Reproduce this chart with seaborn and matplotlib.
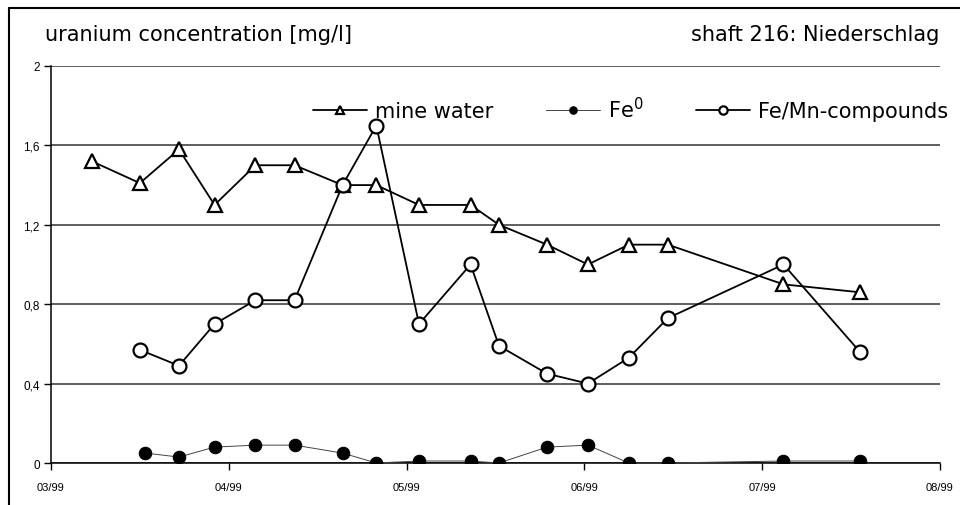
import matplotlib
matplotlib.use("Agg")
import matplotlib.pyplot as plt
import matplotlib.ticker as mticker
import pandas as pd
import seaborn as sns

# data (x in months after 03/99)
month_labels = ["03/99", "04/99", "05/99", "06/99", "07/99", "08/99"]

mine_x = [0.23, 0.50, 0.72, 0.92, 1.15, 1.37, 1.64, 1.83, 2.07, 2.36, 2.52,
          2.79, 3.02, 3.25, 3.47, 4.12, 4.55]
mine_y = [1.52, 1.41, 1.58, 1.30, 1.50, 1.50, 1.40, 1.40, 1.30, 1.30, 1.20,
          1.10, 1.00, 1.10, 1.10, 0.90, 0.86]

fe0_x = [0.53, 0.72, 0.92, 1.15, 1.37, 1.64, 1.83, 2.07, 2.36, 2.52, 2.79,
         3.02, 3.25, 3.47, 4.12, 4.55]
fe0_y = [0.05, 0.03, 0.08, 0.09, 0.09, 0.05, 0.00, 0.01, 0.01, 0.00, 0.08,
         0.09, 0.00, 0.00, 0.01, 0.01]

femn_x = [0.50, 0.72, 0.92, 1.15, 1.37, 1.64, 1.83, 2.07, 2.36, 2.52, 2.79,
          3.02, 3.25, 3.47, 4.12, 4.55]
femn_y = [0.57, 0.49, 0.70, 0.82, 0.82, 1.40, 1.70, 0.70, 1.00, 0.59, 0.45,
          0.40, 0.53, 0.73, 1.00, 0.56]

sns.set_theme(style="white")
plt.rcParams["font.family"] = ["Liberation Sans", "DejaVu Sans"]
plt.rcParams["text.color"] = "black"
plt.rcParams["xtick.color"] = "black"
plt.rcParams["ytick.color"] = "black"

fig = plt.figure(figsize=(9.6, 5.06), dpi=100)
ax = fig.add_axes([0.0531, 0.083, 0.9260, 0.7846])

df_mine = pd.DataFrame({"x": mine_x, "y": mine_y})
df_fe0 = pd.DataFrame({"x": fe0_x, "y": fe0_y})
df_femn = pd.DataFrame({"x": femn_x, "y": femn_y})

sns.lineplot(data=df_mine, x="x", y="y", ax=ax, color="black", lw=1.3,
             marker="^", markersize=10, markerfacecolor="white",
             markeredgecolor="black", markeredgewidth=1.6,
             label="mine water", zorder=4)
sns.lineplot(data=df_fe0, x="x", y="y", ax=ax, color="#444444", lw=0.7,
             marker="o", markersize=9, markerfacecolor="black",
             markeredgecolor="black", label="Fe$^0$", zorder=3)
sns.lineplot(data=df_femn, x="x", y="y", ax=ax, color="black", lw=1.3,
             marker="o", markersize=10, markerfacecolor="white",
             markeredgecolor="black", markeredgewidth=1.6,
             label="Fe/Mn-compounds", zorder=5)

ax.set_xlim(0, 5)
ax.set_ylim(0, 2)
ax.set_xticks(range(len(month_labels)))
ax.set_xticklabels(month_labels, fontsize=8)
ax.set_yticks([0, 0.4, 0.8, 1.2, 1.6, 2.0])
ax.yaxis.set_major_formatter(
    mticker.FuncFormatter(lambda v, p: f"{v:g}".replace(".", ",")))
ax.tick_params(axis="y", labelsize=8.5, length=5, width=1, direction="out",
               left=True, pad=3)
ax.tick_params(axis="x", length=5, width=1, direction="out", bottom=True,
               pad=9)
ax.set_xlabel("")
ax.set_ylabel("")
ax.grid(axis="y", color="#333333", lw=1.1)
ax.grid(axis="x", visible=False)
for side in ["top", "right"]:
    ax.spines[side].set_visible(False)
for side in ["left", "bottom"]:
    ax.spines[side].set_color("black")
    ax.spines[side].set_linewidth(1.1)

# legend in one row
handles, labels = ax.get_legend_handles_labels()
ax.get_legend().remove()
fig.legend(handles, labels, loc="center left",
           bbox_to_anchor=(0.326, 0.783), ncol=3, frameon=False,
           prop={"family": "DejaVu Sans", "size": 15}, handlelength=2.6,
           columnspacing=2.5, handletextpad=0.4, markerscale=0.6,
           borderaxespad=0, borderpad=0, labelcolor="black")

fig.text(0.047, 0.931, "uranium concentration [mg/l]", fontsize=15,
         family="DejaVu Sans", ha="left", va="center")
fig.text(0.978, 0.931, "shaft 216: Niederschlag", fontsize=15,
         family="DejaVu Sans", ha="right", va="center")

# frame lines on the left and top of the picture
fig.add_artist(plt.Line2D([0.0094, 0.0094], [0, 0.982], color="black",
                          lw=1.5, transform=fig.transFigure))
fig.add_artist(plt.Line2D([0.0094, 1.0], [0.982, 0.982], color="black",
                          lw=1.5, transform=fig.transFigure))

fig.savefig("out.png", dpi=100)
